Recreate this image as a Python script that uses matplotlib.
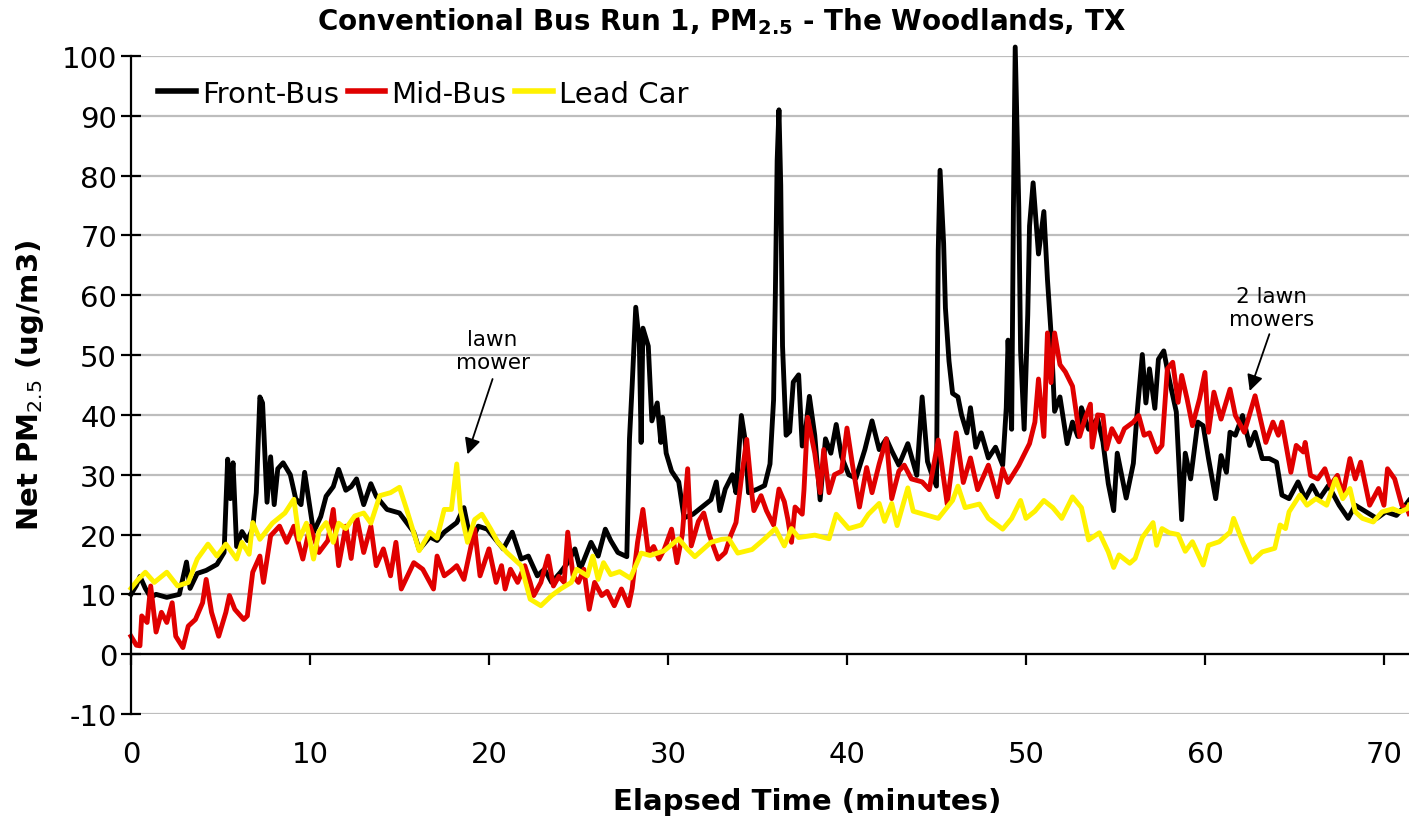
import matplotlib.pyplot as plt

plt.rcParams['axes.unicode_minus'] = False

# Front-Bus (black)
front_t = [0, 0.3, 0.5, 0.8, 1.1, 1.4, 2.0, 2.7, 3.1, 3.3, 3.7, 4.2, 4.8, 5.2, 5.4, 5.55, 5.7, 5.9,
           6.2, 6.5, 6.8, 7.0, 7.2, 7.35, 7.6, 7.8, 8.0, 8.2, 8.5, 8.9, 9.2, 9.5, 9.7, 10.2, 10.6,
           10.9, 11.3, 11.6, 12.0, 12.3, 12.6, 13.0, 13.4, 13.7, 14.3, 15.0, 15.8, 16.1, 16.7, 17.1,
           17.5, 18.2, 18.6, 19.0, 19.4, 19.9, 20.5, 20.8, 21.3, 21.8, 22.2, 22.7, 23.1, 23.5, 24.0,
           24.4, 24.8, 25.1, 25.7, 26.1, 26.5, 26.8, 27.2, 27.7, 27.85, 28.0, 28.2, 28.4, 28.5, 28.6,
           28.9, 29.1, 29.4, 29.6, 29.7, 29.9, 30.2, 30.6, 30.9, 31.4, 31.9, 32.4, 32.7, 32.9, 33.2,
           33.6, 33.8, 34.1, 34.3, 34.5, 35.0, 35.4, 35.7, 35.9, 36.0, 36.1, 36.2, 36.3, 36.4, 36.6,
           36.8, 37.0, 37.3, 37.5, 37.6, 37.9, 38.2, 38.5, 38.8, 39.1, 39.4, 39.7, 40.1, 40.5, 41.0,
           41.4, 41.8, 42.2, 42.5, 42.9, 43.4, 43.9, 44.2, 44.5, 44.7, 45.0, 45.1, 45.2, 45.4, 45.5,
           45.7, 45.9, 46.2, 46.4, 46.7, 46.9, 47.2, 47.5, 47.9, 48.3, 48.7, 48.9, 49.0, 49.2, 49.3,
           49.4, 49.6, 49.7, 49.9, 50.1, 50.2, 50.4, 50.7, 51.0, 51.2, 51.4, 51.6, 51.9, 52.3, 52.6,
           52.9, 53.1, 53.5, 54.0, 54.3, 54.6, 54.9, 55.1, 55.6, 56.0, 56.2, 56.5, 56.7, 56.9, 57.2,
           57.4, 57.7, 58.0, 58.4, 58.7, 58.9, 59.2, 59.6, 59.9, 60.2, 60.6, 60.9, 61.2, 61.4, 61.7,
           62.1, 62.5, 62.8, 63.2, 63.6, 64.0, 64.3, 64.7, 65.2, 65.6, 66.0, 66.4, 66.9, 67.5, 68.0,
           68.4, 69.0, 69.6, 70.1, 70.7, 71.2, 71.4]
front_v = [10, 11.5, 13, 11, 9.5, 10, 9.5, 10, 15.4, 11, 13.5, 14, 15, 17, 32.6, 26, 32, 18,
           20.5, 19, 21, 27, 43, 42, 25.4, 33, 25, 31, 32, 30, 26, 25, 30.4, 20.4, 23,
           26.4, 28, 30.9, 27.4, 28, 29.3, 25, 28.5, 26.4, 24.2, 23.6, 20.4, 17.5, 19.6, 19,
           20.4, 22, 24.5, 18.7, 21.4, 20.9, 18.7, 17.6, 20.4, 15.9, 16.4, 13.1, 14.2, 12, 13.7,
           15.3, 17.6, 14.2, 18.7, 16.4, 20.9, 19, 17, 16.3, 36, 45, 58, 52, 35.4, 54.5,
           51.5, 39, 42, 35.4, 39.6, 33.6, 30.6, 28.8, 22.8, 23.4, 24.6, 25.8, 28.8, 24, 27.6,
           30, 27, 39.9, 36, 27, 27.6, 28.2, 31.8, 42.5, 60.4, 82.5, 91, 78.4, 51.5, 36.6,
           37.2, 45.5, 46.7, 34.8, 35, 43.1, 36.6, 25.8, 36, 33.6, 38.4, 33, 30, 29.4, 34.2,
           39, 34.2, 36, 34, 31.6, 35.2, 29.9, 43, 32.2, 30.4, 28.1, 67.5, 80.9, 68.7, 57.9,
           49, 43.6, 43, 40, 37, 41.2, 34.6, 37, 32.8, 34.6, 31.6, 41.2, 52.5, 37.6, 74.6,
           101.5, 74.6, 50.7, 37.6, 56.7, 71.6, 78.8, 66.9, 74, 62.7, 53.7, 40.6, 43, 35.2, 38.8,
           36.4, 41.2, 37.6, 39.4, 35.5, 28.5, 24, 33.6, 26.1, 31.9, 39.9, 50.1, 42, 47.7, 41.1,
           49.3, 50.7, 46, 40.5, 22.5, 33.6, 29.3, 38.8, 38.2, 32.7, 26, 33.2, 30.4, 37.1, 36.6,
           39.9, 34.9, 37.1, 32.7, 32.7, 32.1, 26.6, 26, 28.8, 26, 28.2, 26, 28.2, 24.9, 22.7,
           24.9, 23.8, 22.7, 23.8, 23.2, 24.9, 25.7]

# Mid-Bus (red)
mid_t = [0, 0.3, 0.5, 0.6, 0.9, 1.1, 1.4, 1.7, 2.0, 2.3, 2.5, 2.9, 3.2, 3.6, 4.0, 4.2, 4.5, 4.9,
         5.3, 5.5, 5.8, 6.3, 6.5, 6.8, 7.2, 7.4, 7.8, 8.3, 8.7, 9.1, 9.6, 10.0, 10.5, 11.0, 11.3,
         11.6, 12.0, 12.3, 12.6, 13.0, 13.4, 13.7, 14.1, 14.5, 14.8, 15.1, 15.8, 16.3, 16.9, 17.1,
         17.5, 17.9, 18.2, 18.6, 19.2, 19.5, 20.0, 20.4, 20.7, 20.9, 21.2, 21.6, 22.0, 22.3, 22.5,
         22.9, 23.3, 23.6, 23.9, 24.2, 24.4, 24.7, 25.0, 25.3, 25.6, 25.9, 26.3, 26.6, 27.0, 27.4,
         27.8, 28.0, 28.3, 28.6, 28.9, 29.2, 29.5, 29.8, 30.2, 30.5, 30.8, 31.1, 31.3, 31.7, 32.0,
         32.3, 32.8, 33.2, 33.5, 33.8, 34.1, 34.4, 34.7, 34.8, 35.2, 35.5, 35.9, 36.2, 36.5, 36.7,
         36.9, 37.1, 37.5, 37.6, 37.8, 38.2, 38.5, 38.7, 39.0, 39.3, 39.7, 40.0, 40.3, 40.7, 41.1,
         41.4, 41.8, 42.2, 42.5, 42.9, 43.2, 43.6, 44.2, 44.6, 45.1, 45.6, 46.1, 46.5, 46.9, 47.3,
         47.9, 48.4, 48.7, 49.0, 49.6, 50.2, 50.5, 50.7, 51.0, 51.2, 51.4, 51.6, 51.9, 52.2, 52.6,
         53.0, 53.3, 53.6, 53.7, 54.0, 54.3, 54.5, 54.8, 55.2, 55.5, 56.0, 56.3, 56.6, 56.9, 57.3,
         57.6, 57.9, 58.2, 58.5, 58.7, 59.0, 59.3, 59.7, 60.0, 60.2, 60.5, 60.9, 61.4, 61.7, 62.2,
         62.8, 63.1, 63.4, 63.8, 64.1, 64.3, 64.8, 65.1, 65.5, 65.6, 65.9, 66.3, 66.7, 67.0, 67.4,
         67.7, 68.1, 68.4, 68.7, 69.2, 69.7, 70.0, 70.2, 70.6, 71.0, 71.3, 71.4]
mid_v = [3, 1.5, 1.4, 6.4, 5.3, 11.4, 3.7, 7, 5.3, 8.6, 3, 1.1, 4.7, 5.8, 8.6, 12.5, 7, 3,
         7, 9.8, 7.5, 5.8, 6.4, 13.7, 16.4, 12, 19.8, 21.4, 18.7, 21.4, 15.9, 21.4, 17, 19, 24.2,
         14.8, 21.4, 16, 23.1, 17, 21.4, 14.8, 17.6, 13.1, 18.7, 10.9, 15.3, 14.2, 10.9, 16.4,
         13.1, 14, 14.8, 12.5, 20.9, 13.1, 17.6, 12, 14.8, 10.9, 14.2, 12, 14.8, 12, 9.8,
         12, 16.4, 11.4, 13, 12, 20.4, 13.1, 12, 14.2, 7.5, 12, 9.8, 10.5, 8.1, 10.9,
         8.1, 11, 18.7, 24.2, 16.9, 18, 15.9, 17.6, 20.9, 15.3, 20, 31, 18.1, 22.2, 23.6,
         20, 15.9, 17, 19.8, 22, 29.4, 35.9, 26.4, 24, 26.5, 24, 21.6, 27.6, 25.5, 22.5,
         18.7, 24.6, 23.4, 27.5, 39.6, 33.6, 27, 34.2, 27, 30, 30.6, 37.8, 31.8, 24.6, 31.2,
         27, 31.8, 36, 26, 30.6, 31.6, 29.3, 28.8, 27.5, 35.8, 25.1, 37, 28.7, 32.8, 27.5,
         31.6, 26.3, 31, 28.7, 31.6, 35.2, 38.8, 46, 36.4, 53.7, 45.4, 53.7, 48.4, 47.2, 44.8,
         36.4, 39.4, 41.8, 34.6, 40, 39.9, 34.3, 37.7, 35.5, 37.7, 38.8, 39.9, 36.6, 37, 33.8,
         34.9, 47.7, 48.8, 42.1, 46.6, 42.7, 38.2, 42.7, 47.1, 37.1, 43.8, 39.3, 44.3, 39.9, 37.1,
         43.2, 39.3, 35.4, 38.8, 36.6, 38.8, 30.4, 34.9, 33.8, 35.4, 29.9, 29.3, 31, 28.2, 29.9,
         26.6, 32.7, 29.3, 32.1, 24.9, 27.7, 24.9, 31, 29.3, 24.9, 24.3, 23.5]

# Lead Car (yellow)
lead_t = [0, 0.4, 0.8, 1.3, 2.0, 2.6, 3.2, 3.7, 4.3, 4.8, 5.3, 5.9, 6.2, 6.6, 6.8, 7.2, 7.9, 8.6,
          9.1, 9.4, 9.8, 10.2, 10.5, 10.9, 11.3, 11.6, 12.0, 12.5, 13.0, 13.4, 13.9, 14.5, 15.0,
          15.4, 16.1, 16.7, 17.1, 17.5, 17.9, 18.2, 18.4, 18.8, 19.2, 19.6, 20.1, 20.5, 21.0, 21.8,
          22.3, 22.9, 23.5, 24.0, 24.6, 24.9, 25.5, 25.8, 26.1, 26.4, 26.8, 27.3, 27.9, 28.5, 29.0,
          29.8, 30.6, 31.1, 31.5, 32.4, 33.0, 33.4, 33.9, 34.7, 35.4, 36.0, 36.5, 36.9, 37.3, 38.2,
          39.0, 39.4, 40.1, 40.8, 41.2, 41.8, 42.1, 42.5, 42.8, 43.4, 43.7, 44.4, 45.1, 45.9, 46.2,
          46.6, 47.4, 47.9, 48.7, 49.2, 49.7, 50.0, 50.5, 51.0, 51.5, 52.0, 52.6, 53.1, 53.5, 54.1,
          54.6, 54.9, 55.2, 55.8, 56.1, 56.5, 57.1, 57.3, 57.6, 58.0, 58.5, 58.9, 59.3, 59.9, 60.2,
          60.8, 61.4, 61.6, 62.1, 62.6, 63.2, 63.9, 64.2, 64.5, 64.7, 65.3, 65.7, 66.2, 66.8, 67.3,
          67.7, 68.1, 68.4, 68.8, 69.4, 69.9, 70.5, 70.9, 71.3, 71.4]
lead_v = [11, 12.5, 13.7, 12, 13.7, 11.4, 12, 15.9, 18.4, 16.4, 18.4, 15.9, 18.7, 16.7, 22, 19.2,
          21.9, 23.6, 25.9, 19.2, 21.9, 15.9, 20.5, 22, 18.7, 21.9, 21, 23.1, 23.6, 21.9, 26.5,
          27, 27.9, 24.2, 17.3, 20.4, 19.4, 24.2, 24.2, 31.8, 24.2, 18.7, 22.5, 23.4, 20.9, 18.7,
          17, 14.8, 9.2, 8.1, 9.8, 10.9, 12, 14.2, 13.1, 16.4, 12.5, 15.3, 13.3, 13.8, 12.7,
          16.9, 16.5, 17.3, 19.3, 17.5, 16.3, 18.7, 19.2, 19.3, 16.9, 17.5, 19.3, 21, 18.1, 21,
          19.5, 19.9, 19.3, 23.4, 21, 21.6, 23.4, 25.2, 22.2, 25.2, 21.5, 27.8, 23.9, 23.3, 22.7,
          25.7, 28.1, 24.5, 25.1, 22.7, 20.9, 22.7, 25.7, 22.7, 23.9, 25.7, 24.5, 22.7, 26.3,
          24.5, 19.1, 20.3, 17.1, 14.5, 16.6, 15.2, 16, 19.5, 22, 18.2, 21, 20.3, 20, 17.2,
          18.8, 14.9, 18.2, 18.8, 20.4, 22.7, 18.8, 15.4, 17.1, 17.7, 21.6, 21, 23.8, 26.6, 24.9,
          26, 24.9, 29.3, 26, 27.7, 23.8, 22.7, 22.1, 23.8, 24.3, 23.8, 24.3, 24.9]

series_names = ['Front-Bus', 'Mid-Bus', 'Lead Car']
series_colors = ['black', '#E00000', '#FFF200']
x_ticks = [0, 10, 20, 30, 40, 50, 60, 70]
y_ticks = [-10, 0, 10, 20, 30, 40, 50, 60, 70, 80, 90, 100]

fig = plt.figure(figsize=(14.09, 8.20), dpi=100)
ax = fig.add_axes([131 / 1409, 1 - 715 / 820, 1 - 131 / 1409, (715 - 57) / 820])

for (t, v), name, col in zip([(front_t, front_v), (mid_t, mid_v), (lead_t, lead_v)],
                             series_names, series_colors):
    ax.plot(t, v, color=col, lw=3.5, label=name, clip_on=False)

ax.set_xlim(0, 71.4)
ax.set_ylim(-10, 100)
ax.set_yticks(y_ticks)
ax.set_xticks(x_ticks)
ax.yaxis.grid(True, color='#BDBDBD', lw=1.6)
ax.set_axisbelow(True)

for s in ['top', 'right']:
    ax.spines[s].set_visible(False)
ax.spines['left'].set_linewidth(1.6)
ax.spines['bottom'].set_position(('data', 0))
ax.spines['bottom'].set_linewidth(1.6)
ax.tick_params(axis='y', direction='inout', length=14, width=1.6, labelsize=21, pad=3)
ax.tick_params(axis='x', direction='out', length=8, width=1.6, labelbottom=False)

# tick labels sit below the -10 line
sec = ax.secondary_xaxis('bottom')
sec.set_xticks(x_ticks)
sec.tick_params(length=0, labelsize=21, pad=19)
sec.spines['bottom'].set_visible(False)

fig.text(0.512, 0.974, r'Conventional Bus Run 1, PM$_{\mathbf{2.5}}$ - The Woodlands, TX',
         ha='center', va='center', fontsize=20, fontweight='bold')
fig.text(0.573, 0.022, 'Elapsed Time (minutes)', ha='center', va='center',
         fontsize=21, fontweight='bold')
fig.text(0.021, 0.53, r'Net PM$_{2.5}$ (ug/m3)', ha='center', va='center',
         rotation=90, fontsize=21, fontweight='bold')

leg = ax.legend(loc='upper left', bbox_to_anchor=(0.012, 0.982), ncol=3, frameon=False,
                fontsize=21, handlelength=1.3, handletextpad=0.2, columnspacing=0.3,
                borderaxespad=0)
for h in leg.get_lines():
    h.set_linewidth(4)

arrow = dict(arrowstyle='-|>', color='black', lw=1.3, mutation_scale=24, shrinkA=0, shrinkB=0)
ax.text(20.2, 50.8, 'lawn\nmower', ha='center', va='center', fontsize=15.5, linespacing=1.2)
ax.annotate('', xy=(18.8, 33.4), xytext=(20.2, 46), arrowprops=arrow)
ax.text(63.7, 58, '2 lawn\nmowers', ha='center', va='center', fontsize=15.5, linespacing=1.2)
ax.annotate('', xy=(62.5, 44), xytext=(63.6, 53.5), arrowprops=arrow)

fig.savefig('out.png', dpi=100)
